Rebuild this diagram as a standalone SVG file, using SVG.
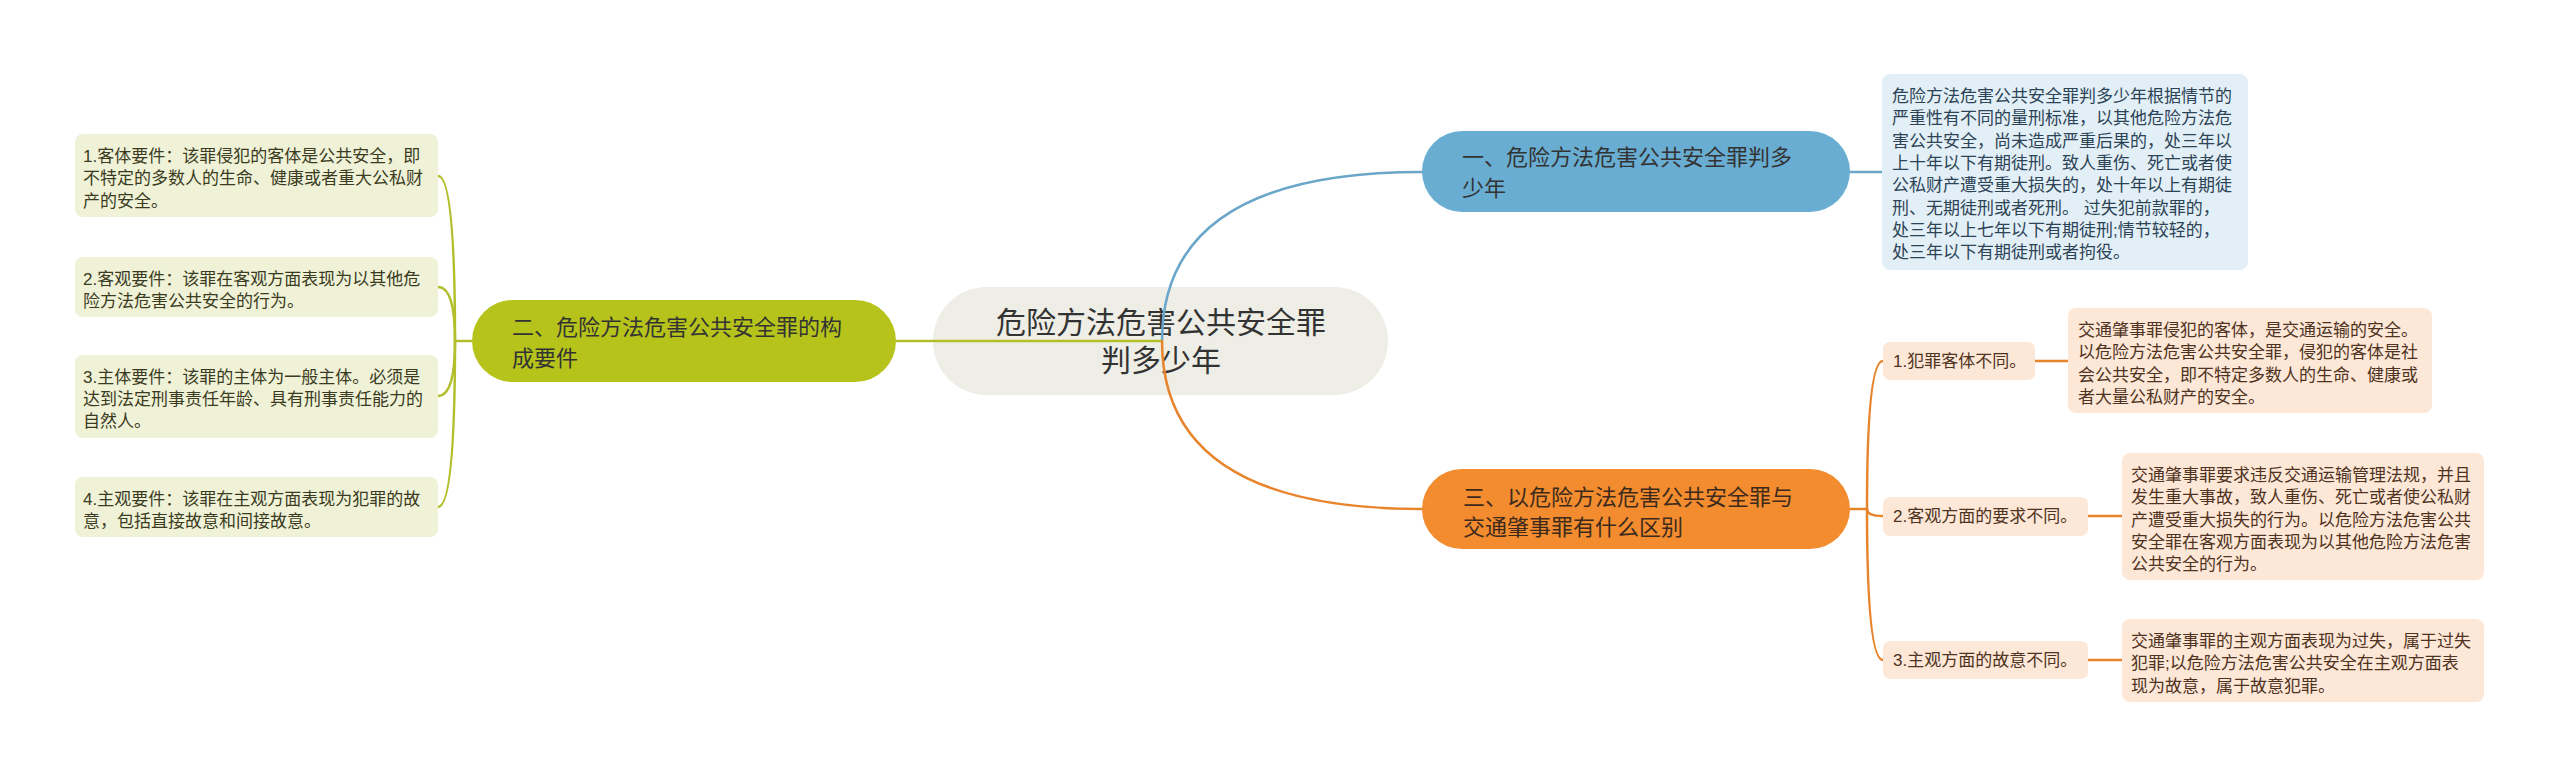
<svg xmlns="http://www.w3.org/2000/svg" width="2560" height="777" viewBox="0 0 2560 777">
<style>
text{font-family:"Liberation Sans","Noto Sans CJK SC",sans-serif;}
.main{font-size:22px;fill:#333333;}
.center{font-size:30px;fill:#333333;}
.leaf{font-size:17px;}
.lg{fill:#3b3b22;}
.lb{fill:#2d4356;}
.lo{fill:#4f3322;}
.c{fill:none;stroke-linecap:round;}
.cb{stroke:#6aa6c9;stroke-width:2.5;}
.cg{stroke:#b3bf2a;stroke-width:2.5;}
.co{stroke:#e8842c;stroke-width:2.5;}
</style>
<rect width="2560" height="777" fill="#ffffff"/>
<g id="center">
<rect x="933" y="287" width="455" height="108" rx="54" fill="#eeeee6"/>
<text class="center" x="1161" y="333" text-anchor="middle">危险方法危害公共安全罪</text>
<text class="center" x="1161" y="371" text-anchor="middle">判多少年</text>
</g>
<g id="connectors">
<path class="c cb" d="M1162 341 Q1162 172 1422 172"/>
<path class="c cb" d="M1850 172 L1882 172"/>
<path class="c cg" d="M1162 341 L896 341"/>
<path class="c cg" d="M472 341 L455 341"/>
<path class="c cg" d="M455 341 Q455 176 438 176"/>
<path class="c cg" d="M455 341 Q455 287 438 287"/>
<path class="c cg" d="M455 341 Q455 396 438 396"/>
<path class="c cg" d="M455 341 Q455 507 438 507"/>
<path class="c co" d="M1162 341 Q1162 509 1422 509"/>
<path class="c co" d="M1850 509 L1867 509"/>
<path class="c co" d="M1867 509 Q1867 361 1883 361"/>
<path class="c co" d="M1867 509 Q1867 516 1883 516"/>
<path class="c co" d="M1867 509 Q1867 660 1883 660"/>
<path class="c co" d="M2035 361 L2068 361"/>
<path class="c co" d="M2088 516 L2122 516"/>
<path class="c co" d="M2088 660 L2122 660"/>
</g>
<g id="n1">
<rect x="1422" y="131" width="428" height="81" rx="40.5" fill="#69aed2"/>
<text class="main" x="1462" y="165">一、危险方法危害公共安全罪判多</text>
<text class="main" x="1462" y="196">少年</text>
</g>
<g id="n1-1">
<rect x="1882" y="74" width="366" height="196" rx="8" fill="#e2eff7"/>
<text class="leaf lb" x="1892" y="102">危险方法危害公共安全罪判多少年根据情节的</text>
<text class="leaf lb" x="1892" y="124.3">严重性有不同的量刑标准，以其他危险方法危</text>
<text class="leaf lb" x="1892" y="146.6">害公共安全，尚未造成严重后果的，处三年以</text>
<text class="leaf lb" x="1892" y="168.9">上十年以下有期徒刑。致人重伤、死亡或者使</text>
<text class="leaf lb" x="1892" y="191.2">公私财产遭受重大损失的，处十年以上有期徒</text>
<text class="leaf lb" x="1892" y="213.5">刑、无期徒刑或者死刑。 过失犯前款罪的，</text>
<text class="leaf lb" x="1892" y="235.8">处三年以上七年以下有期徒刑;情节较轻的，</text>
<text class="leaf lb" x="1892" y="258.1">处三年以下有期徒刑或者拘役。</text>
</g>
<g id="n2">
<rect x="472" y="300" width="424" height="82" rx="41" fill="#b6c31b"/>
<text class="main" x="512" y="335">二、危险方法危害公共安全罪的构</text>
<text class="main" x="512" y="366">成要件</text>
</g>
<g id="n2-1">
<rect x="75" y="134" width="363" height="83" rx="8" fill="#eff2d7"/>
<text class="leaf lg" x="83" y="162">1.客体要件：该罪侵犯的客体是公共安全，即</text>
<text class="leaf lg" x="83" y="184.3">不特定的多数人的生命、健康或者重大公私财</text>
<text class="leaf lg" x="83" y="206.6">产的安全。</text>
</g>
<g id="n2-2">
<rect x="75" y="257" width="363" height="60" rx="8" fill="#eff2d7"/>
<text class="leaf lg" x="83" y="284.5">2.客观要件：该罪在客观方面表现为以其他危</text>
<text class="leaf lg" x="83" y="306.8">险方法危害公共安全的行为。</text>
</g>
<g id="n2-3">
<rect x="75" y="355" width="363" height="83" rx="8" fill="#eff2d7"/>
<text class="leaf lg" x="83" y="382.5">3.主体要件：该罪的主体为一般主体。必须是</text>
<text class="leaf lg" x="83" y="404.8">达到法定刑事责任年龄、具有刑事责任能力的</text>
<text class="leaf lg" x="83" y="427.1">自然人。</text>
</g>
<g id="n2-4">
<rect x="75" y="477" width="363" height="60" rx="8" fill="#eff2d7"/>
<text class="leaf lg" x="83" y="504.5">4.主观要件：该罪在主观方面表现为犯罪的故</text>
<text class="leaf lg" x="83" y="526.8">意，包括直接故意和间接故意。</text>
</g>
<g id="n3">
<rect x="1422" y="469" width="428" height="80" rx="40" fill="#f28c2f"/>
<text class="main" x="1463" y="505" fill="#3d2a1c" style="fill:#3d2a1c">三、以危险方法危害公共安全罪与</text>
<text class="main" x="1463" y="535" style="fill:#3d2a1c">交通肇事罪有什么区别</text>
</g>
<g id="n3-1">
<rect x="1883" y="342" width="152" height="38" rx="7" fill="#fde7d7"/>
<text class="leaf lo" x="1893" y="367">1.犯罪客体不同。</text>
</g>
<g id="n3-1-1">
<rect x="2068" y="308" width="364" height="105" rx="8" fill="#fde7d7"/>
<text class="leaf lo" x="2078" y="336">交通肇事罪侵犯的客体，是交通运输的安全。</text>
<text class="leaf lo" x="2078" y="358.3">以危险方法危害公共安全罪，侵犯的客体是社</text>
<text class="leaf lo" x="2078" y="380.6">会公共安全，即不特定多数人的生命、健康或</text>
<text class="leaf lo" x="2078" y="402.9">者大量公私财产的安全。</text>
</g>
<g id="n3-2">
<rect x="1883" y="497" width="205" height="39" rx="7" fill="#fde7d7"/>
<text class="leaf lo" x="1893" y="522">2.客观方面的要求不同。</text>
</g>
<g id="n3-2-1">
<rect x="2122" y="453" width="362" height="127" rx="8" fill="#fde7d7"/>
<text class="leaf lo" x="2131" y="481">交通肇事罪要求违反交通运输管理法规，并且</text>
<text class="leaf lo" x="2131" y="503.3">发生重大事故，致人重伤、死亡或者使公私财</text>
<text class="leaf lo" x="2131" y="525.6">产遭受重大损失的行为。以危险方法危害公共</text>
<text class="leaf lo" x="2131" y="547.9">安全罪在客观方面表现为以其他危险方法危害</text>
<text class="leaf lo" x="2131" y="570.2">公共安全的行为。</text>
</g>
<g id="n3-3">
<rect x="1883" y="641" width="205" height="38" rx="7" fill="#fde7d7"/>
<text class="leaf lo" x="1893" y="666">3.主观方面的故意不同。</text>
</g>
<g id="n3-3-1">
<rect x="2122" y="619" width="362" height="83" rx="8" fill="#fde7d7"/>
<text class="leaf lo" x="2131" y="647">交通肇事罪的主观方面表现为过失，属于过失</text>
<text class="leaf lo" x="2131" y="669.3">犯罪;以危险方法危害公共安全在主观方面表</text>
<text class="leaf lo" x="2131" y="691.6">现为故意，属于故意犯罪。</text>
</g>
</svg>
